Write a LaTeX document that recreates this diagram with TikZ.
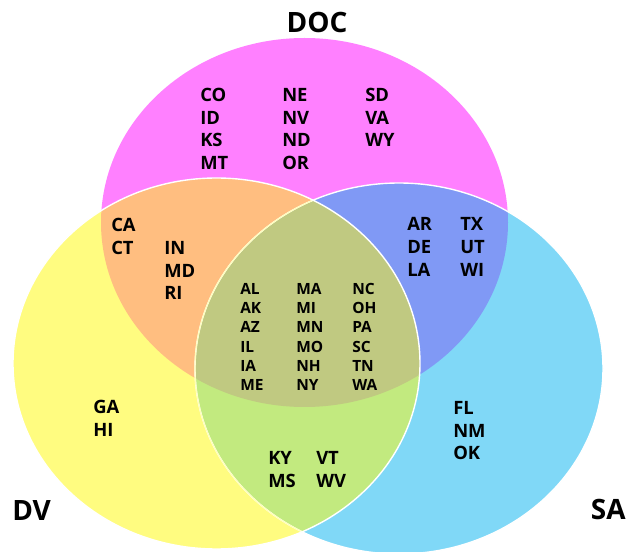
\documentclass[tikz,border=0pt]{standalone}
\usepackage{fontspec}
\setmainfont{Open Sans}
\definecolor{cmag}{HTML}{FF80FF}
\definecolor{cyel}{HTML}{FFFC80}
\definecolor{ccyan}{HTML}{80D8F7}
\definecolor{corange}{HTML}{FFBE80}
\definecolor{cblue}{HTML}{8099F5}
\definecolor{cgreen}{HTML}{C2EA7F}
\definecolor{colive}{HTML}{C0C981}
\definecolor{cpale}{HTML}{FFFFB8}
\tikzset{
  lbl/.style={font=\bfseries\fontsize{11.6}{13}\selectfont, anchor=west, inner sep=0pt, text depth=0pt},
  lblb/.style={font=\bfseries\fontsize{13.8}{15}\selectfont, anchor=west, inner sep=0pt, text depth=0pt},
  ttl/.style={font=\bfseries\fontsize{21}{24}\selectfont, inner sep=0pt, text depth=0pt},
  edge/.style={line width=1.05pt}
}
\def\DOCe{(304.5,222.5) ellipse [x radius=203.5, y radius=184.5]}
\def\DVe{(216.5,363.5) ellipse [x radius=203.5, y radius=185.5]}
\def\SAe{(399,368.5) ellipse [x radius=204, y radius=185.5]}
\begin{document}
\begin{tikzpicture}[x=0.75pt,y=-0.75pt]
\useasboundingbox (0,0) rectangle (629,552);
% base fills
\fill[cmag] \DOCe;
\fill[ccyan] \SAe;
\fill[cyel] \DVe;
% overlaps
\begin{scope}
  \clip \DOCe;
  \fill[corange] \DVe;
  \fill[cblue] \SAe;
\end{scope}
\begin{scope}
  \clip \DVe;
  \fill[cgreen] \SAe;
\end{scope}
\begin{scope}
  \clip \DOCe;
  \clip \DVe;
  \fill[colive] \SAe;
\end{scope}
% outlines
\draw[white, edge] \SAe;
\begin{scope}
  \clip \DVe;
  \draw[cpale, line width=0.8pt] \SAe;
\end{scope}
\draw[white, edge] \DVe;
% titles
\node[ttl] (tdoc) at (317,22) {DOC};
\node[ttl, anchor=west] (tdv) at (12,511) {DV};
\node[ttl, anchor=east] (tsa) at (626,509) {SA};
% DOC only
\foreach \t [count=\i from 0] in {CO,ID,KS,MT} \node[lblb] (da\i) at (200,{95+22.6*\i}) {\t};
\foreach \t [count=\i from 0] in {NE,NV,ND,OR} \node[lblb] (db\i) at (282,{95+22.6*\i}) {\t};
\foreach \t [count=\i from 0] in {SD,VA,WY} \node[lblb] (dc\i) at (365,{95+22.6*\i}) {\t};
% DOC & DV
\foreach \t [count=\i from 0] in {CA,CT} \node[lblb] (oa\i) at (111,{225+22.8*\i}) {\t};
\foreach \t [count=\i from 0] in {IN,MD,RI} \node[lblb] (ob\i) at (164,{248+22.6*\i}) {\t};
% all three
\foreach \t [count=\i from 0] in {AL,AK,AZ,IL,IA,ME} \node[lbl] (ca\i) at (240,{289+19.2*\i}) {\t};
\foreach \t [count=\i from 0] in {MA,MI,MN,MO,NH,NY} \node[lbl] (cb\i) at (296,{289+19.2*\i}) {\t};
\foreach \t [count=\i from 0] in {NC,OH,PA,SC,TN,WA} \node[lbl] (cc\i) at (352,{289+19.2*\i}) {\t};
% DOC & SA
\foreach \t [count=\i from 0] in {AR,DE,LA} \node[lblb] (ba\i) at (407,{224+23*\i}) {\t};
\foreach \t [count=\i from 0] in {TX,UT,WI} \node[lblb] (bb\i) at (460,{224+23*\i}) {\t};
% DV only
\foreach \t [count=\i from 0] in {GA,HI} \node[lblb] (ya\i) at (93,{407+23*\i}) {\t};
% SA only
\foreach \t [count=\i from 0] in {FL,NM,OK} \node[lblb] (sa\i) at (453,{408+22.6*\i}) {\t};
% DV & SA
\foreach \t [count=\i from 0] in {KY,MS} \node[lblb] (ga\i) at (268,{458+23*\i}) {\t};
\foreach \t [count=\i from 0] in {VT,WV} \node[lblb] (gb\i) at (316,{458+23*\i}) {\t};
\end{tikzpicture}
\end{document}
